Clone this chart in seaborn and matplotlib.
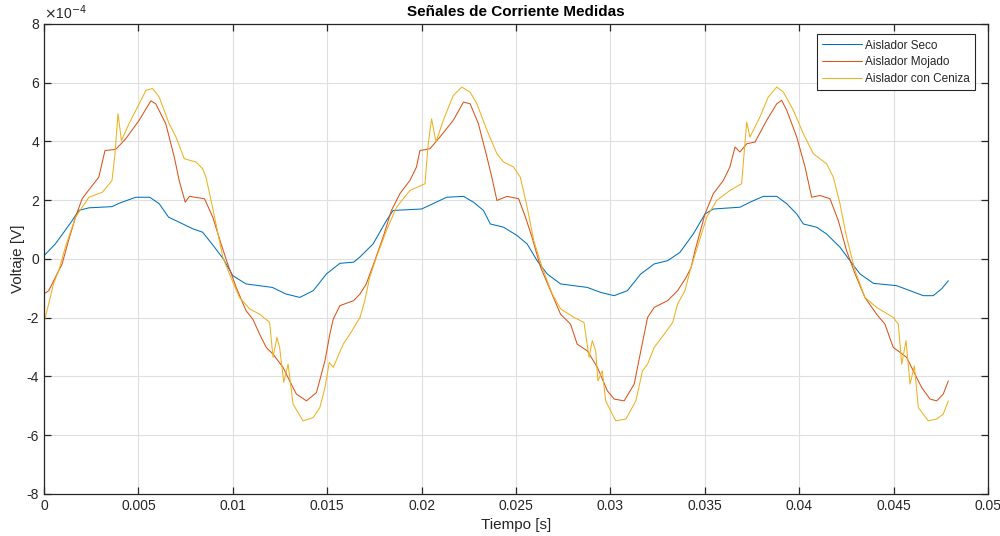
import numpy as np
import pandas as pd
import matplotlib
matplotlib.use("Agg")
import matplotlib.pyplot as plt
from matplotlib.ticker import FuncFormatter, MultipleLocator
import seaborn as sns

# valores (tiempo en s, corriente en unidades de 1e-4)
t_seco = [0.0, 0.0006, 0.0015, 0.00184, 0.00238, 0.0036, 0.004, 0.00486, 0.0056, 0.0061,
          0.0066, 0.00716, 0.0079, 0.0084, 0.0089, 0.0095, 0.01, 0.0107, 0.0121, 0.0128,
          0.01355, 0.01426, 0.01496, 0.01567, 0.0164,
          0.01672, 0.01743, 0.01814, 0.01849, 0.02, 0.0206, 0.02133, 0.02222, 0.02275, 0.02328,
          0.02364, 0.02434, 0.02505, 0.02559, 0.02612, 0.02665, 0.02736, 0.02878, 0.02949, 0.0302,
          0.0309, 0.03161, 0.03232, 0.03303, 0.03356,
          0.03369, 0.03439, 0.03501, 0.03545, 0.03686, 0.03739, 0.0381, 0.03881, 0.03934, 0.03987,
          0.04022, 0.04092, 0.04145, 0.04216, 0.04269, 0.04322, 0.04393, 0.04516, 0.04587, 0.04657,
          0.0471, 0.04754, 0.0479]
v_seco = [0.11, 0.51, 1.31, 1.65, 1.74, 1.78, 1.9, 2.1, 2.1, 1.88,
          1.42, 1.25, 1.02, 0.91, 0.51, 0.0, -0.57, -0.85, -0.97, -1.19,
          -1.31, -1.08, -0.51, -0.15, -0.11,
          0.06, 0.51, 1.31, 1.65, 1.7, 1.88, 2.1, 2.13, 1.93, 1.65,
          1.19, 1.08, 0.8, 0.51, -0.06, -0.51, -0.85, -0.97, -1.14, -1.25,
          -1.08, -0.51, -0.17, -0.06, 0.17,
          0.23, 0.85, 1.53, 1.7, 1.76, 1.93, 2.13, 2.13, 1.88, 1.53,
          1.19, 1.08, 0.85, 0.4, -0.06, -0.51, -0.83, -0.91, -1.08, -1.25,
          -1.25, -1.02, -0.74]

t_mojado = [0.0, 0.00025, 0.0006, 0.00096, 0.0013, 0.00167, 0.00202, 0.00246, 0.0029, 0.00323,
            0.0038, 0.00433, 0.00504, 0.00566, 0.00592, 0.00645, 0.0069, 0.00716, 0.00748, 0.0077,
            0.0085, 0.00894, 0.00938, 0.00973, 0.01018, 0.0107, 0.01106, 0.01142, 0.01177, 0.01213,
            0.01266, 0.01301, 0.01337, 0.0139, 0.01443, 0.01488, 0.01514, 0.01532, 0.01567, 0.0164,
            0.01674, 0.01707, 0.01752, 0.01796, 0.0184, 0.01885, 0.01938, 0.01973, 0.01991, 0.02044,
            0.02097, 0.02168, 0.02222, 0.02257, 0.02301, 0.02346, 0.02372, 0.02399, 0.02452, 0.02514,
            0.0255, 0.02585, 0.0263, 0.02683, 0.02736, 0.02789, 0.02824, 0.02878, 0.02931, 0.02984,
            0.0302, 0.03073, 0.03126, 0.03161, 0.03197, 0.03232, 0.03303, 0.03356, 0.03401,
            0.03427, 0.03448, 0.03501, 0.03545, 0.03598, 0.03633, 0.0366, 0.03686, 0.03722, 0.03766,
            0.03828, 0.03881, 0.03907, 0.03934, 0.03987, 0.04031, 0.04066, 0.0411, 0.04163, 0.04207,
            0.04251, 0.04296, 0.04348, 0.0441, 0.04454, 0.04498, 0.04534, 0.04569, 0.04613, 0.04649,
            0.04693, 0.04728, 0.04763, 0.0479]
v_mojado = [-1.19, -1.08, -0.63, -0.17, 0.63, 1.42, 2.05, 2.42, 2.78, 3.69,
            3.73, 4.09, 4.72, 5.38, 5.28, 4.6, 3.47, 2.67, 1.93, 2.13,
            2.05, 1.42, 0.51, -0.17, -0.97, -1.76, -2.05, -2.56, -3.01, -3.24,
            -3.69, -4.15, -4.6, -4.83, -4.55, -3.47, -2.56, -2.05, -1.59, -1.42,
            -1.19, -0.85, -0.06, 0.74, 1.65, 2.22, 2.67, 3.13, 3.69, 3.75,
            4.15, 4.72, 5.34, 5.28, 4.6, 3.47, 2.78, 1.99, 2.13, 2.05,
            1.42, 0.74, -0.28, -1.08, -1.88, -2.22, -2.9, -3.13, -3.69, -4.49,
            -4.77, -4.83, -4.26, -3.13, -1.99, -1.65, -1.42, -1.08, -0.63,
            -0.3, 0.28, 1.53, 2.22, 2.67, 3.13, 3.81, 3.64, 3.92, 3.98,
            4.72, 5.28, 5.4, 5.06, 4.15, 3.13, 2.1, 2.16, 2.05, 1.31,
            0.28, -0.51, -1.31, -1.88, -2.22, -3.01, -3.18, -3.35, -3.92, -4.38,
            -4.77, -4.83, -4.6, -4.15]

t_ceniza = [0.0, 0.00025, 0.0005, 0.00078, 0.00113, 0.00167, 0.00238, 0.00309, 0.0036, 0.00376,
            0.00392, 0.0041, 0.0045, 0.00504, 0.0054, 0.00575, 0.0061, 0.00663, 0.00699, 0.00743,
            0.00805, 0.0084, 0.00858, 0.00885, 0.00911, 0.00947, 0.00982, 0.01035, 0.01089, 0.01142,
            0.01195, 0.01213, 0.01234, 0.01248, 0.0127, 0.01293, 0.01319, 0.01372, 0.01426, 0.01461,
            0.01488, 0.01511, 0.01532, 0.01585, 0.0162,
            0.01674, 0.01699, 0.01725, 0.01761, 0.01814, 0.01867, 0.01938, 0.02018, 0.02035, 0.02053,
            0.02076, 0.02115, 0.02168, 0.02213, 0.02257, 0.02293, 0.02346, 0.02399, 0.02434, 0.02487,
            0.02523, 0.02559, 0.02594, 0.02638, 0.02692, 0.02736, 0.02807, 0.0286, 0.02887, 0.02904,
            0.02922, 0.02934, 0.02957, 0.02975, 0.03028, 0.03082, 0.03135, 0.0317, 0.03197, 0.03232,
            0.03285, 0.0333, 0.03356,
            0.03395, 0.03422, 0.03466, 0.0351, 0.03563, 0.03633, 0.03695, 0.03708, 0.03722, 0.03739,
            0.03757, 0.03792, 0.03836, 0.03881, 0.03916, 0.03969, 0.04022, 0.04075, 0.04145, 0.04181,
            0.04216, 0.04251, 0.04296, 0.04348, 0.0441, 0.04498, 0.04525, 0.04543, 0.04566, 0.04587,
            0.0461, 0.04631, 0.04684, 0.04728, 0.04763, 0.0479]
v_ceniza = [-2.16, -1.53, -0.85, -0.4, 0.4, 1.42, 2.1, 2.27, 2.67, 3.58,
            4.94, 4.03, 4.6, 5.28, 5.74, 5.8, 5.51, 4.6, 4.15, 3.41,
            3.3, 3.07, 2.78, 1.99, 1.19, 0.06, -0.51, -1.31, -1.7, -1.88,
            -2.16, -3.35, -2.67, -3.01, -4.2, -3.58, -4.94, -5.51, -5.4, -5.06,
            -4.38, -3.52, -3.69, -2.9, -2.56,
            -1.99, -1.42, -0.63, 0.06, 0.97, 1.76, 2.33, 2.56, 3.92, 4.77,
            3.98, 4.72, 5.57, 5.85, 5.68, 5.28, 4.38, 3.58, 3.3, 3.13,
            2.78, 1.76, 0.63, -0.28, -1.19, -1.7, -1.99, -2.16, -3.35, -2.78,
            -3.13, -4.15, -3.81, -4.83, -5.51, -5.45, -4.83, -3.81, -3.58, -3.01,
            -2.56, -2.16, -1.53,
            -1.08, -0.4, 0.51, 1.42, 1.99, 2.33, 2.56, 3.58, 4.66, 4.15,
            4.38, 4.83, 5.51, 5.85, 5.68, 5.06, 4.26, 3.58, 3.24, 2.78,
            1.88, 0.74, -0.4, -1.31, -1.65, -1.99, -2.22, -3.58, -2.78, -4.26,
            -3.64, -5.06, -5.51, -5.45, -5.28, -4.83]

series = ["Aislador Seco", "Aislador Mojado", "Aislador con Ceniza"]
colors = ["#0072BD", "#D95319", "#EDB120"]

frames = []
for name, t, v in zip(series, [t_seco, t_mojado, t_ceniza], [v_seco, v_mojado, v_ceniza]):
    frames.append(pd.DataFrame({"t": t, "v": np.array(v) * 1e-4, "serie": name}))
df = pd.concat(frames, ignore_index=True)

sns.set_style("ticks")
plt.rcParams["font.family"] = ["Liberation Sans", "DejaVu Sans"]
plt.rcParams["axes.unicode_minus"] = False

fig = plt.figure(figsize=(10, 5.36), dpi=100)
ax = fig.add_axes([0.044, 0.0784, 0.944, 0.877])

sns.lineplot(data=df, x="t", y="v", hue="serie", hue_order=series,
             palette=dict(zip(series, colors)), estimator=None, sort=False,
             linewidth=0.75, ax=ax)

ax.set_xlim(0, 0.05)
ax.set_ylim(-8e-4, 8e-4)
ax.xaxis.set_major_locator(MultipleLocator(0.005))
ax.yaxis.set_major_locator(MultipleLocator(2e-4))
ax.xaxis.set_major_formatter(FuncFormatter(lambda x, p: "%g" % round(x, 4)))
ax.yaxis.set_major_formatter(FuncFormatter(lambda y, p: "%g" % round(y * 1e4, 2)))

axcol = "#262626"
ax.grid(True, color="#dfdfdf", linewidth=0.8)
ax.set_axisbelow(True)
for s in ax.spines.values():
    s.set_color(axcol)
    s.set_linewidth(0.9)
    s.set_visible(True)
ax.tick_params(direction="in", top=True, right=True, length=5, width=0.9,
               colors=axcol, labelsize=10, labelcolor=axcol)
ax.text(0.0, 1.004, r"$\times$10$^{-4}$", transform=ax.transAxes, fontsize=10,
        color=axcol, ha="left", va="bottom")

ax.set_xlabel("Tiempo [s]", fontsize=11, color=axcol, labelpad=4)
ax.set_ylabel("Voltaje [V]", fontsize=11, color=axcol, labelpad=1)
ax.set_title("Señales de Corriente Medidas", fontsize=11, fontweight="bold", color="black", pad=6)

leg = ax.legend(loc="upper right", fontsize=8.5, frameon=True, fancybox=False,
                edgecolor=axcol, framealpha=1, handlelength=3.4, handletextpad=0.25,
                borderpad=0.45, labelspacing=0.4, borderaxespad=0.0,
                bbox_to_anchor=(0.9865, 0.978))
leg.get_frame().set_linewidth(0.8)
leg.set_title(None)

fig.savefig("out.png", dpi=100)
